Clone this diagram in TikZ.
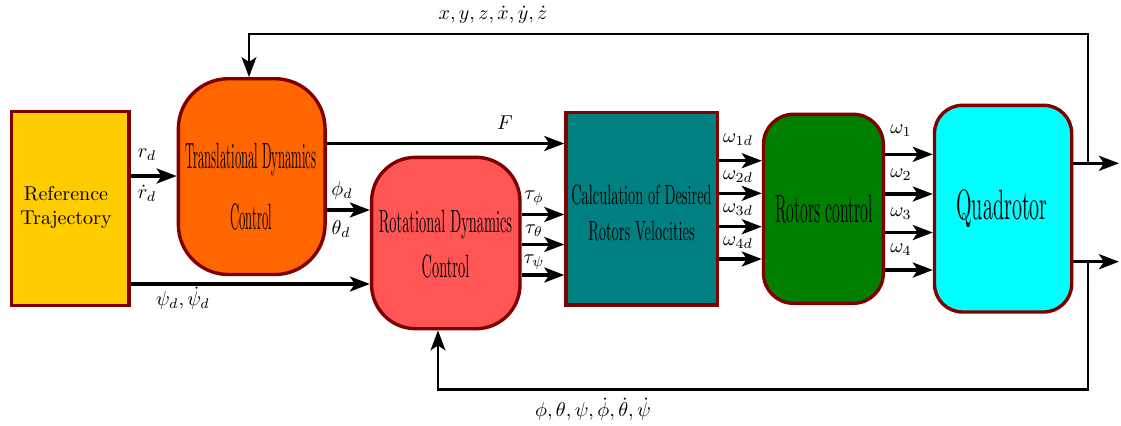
\documentclass[tikz,border=0pt]{standalone}
\usepackage{graphicx}
\usetikzlibrary{arrows.meta,calc}
\definecolor{bord}{HTML}{800000}
\definecolor{cref}{HTML}{FFCC00}
\definecolor{ctrans}{HTML}{FF6600}
\definecolor{crot}{HTML}{FF5555}
\definecolor{ccalc}{HTML}{008080}
\definecolor{crotor}{HTML}{008000}
\definecolor{cquad}{HTML}{00FFFF}
\tikzset{
  blockbox/.style={draw=bord, line width=1.7pt, rectangle, inner sep=0pt},
  txt/.style={inner sep=0pt, anchor=base, align=center},
  lbl/.style={inner sep=0pt},
  arr/.style={line width=1.6pt, -{Stealth[length=10pt,width=7.5pt,inset=2.5pt]}},
  fbarr/.style={line width=1.1pt, -{Stealth[length=10pt,width=7.5pt,inset=2.5pt]}},
}
\begin{document}
\begin{tikzpicture}[x=0.5pt,y=-0.5pt]
\useasboundingbox (0,0) rectangle (1121,425);

% blocks
\node[blockbox, fill=cref, minimum width=58.75pt, minimum height=97pt] (ref) at (70.25,208.5) {};
\node[blockbox, fill=ctrans, rounded corners=25pt, minimum width=73.35pt, minimum height=97.9pt] (trans) at (251.7,176.6) {};
\node[blockbox, fill=crot, rounded corners=22pt, minimum width=74.2pt, minimum height=85.7pt] (rot) at (445.8,243) {};
\node[blockbox, fill=ccalc, minimum width=75.75pt, minimum height=96.35pt] (calc) at (641.75,208.65) {};
\node[blockbox, fill=crotor, rounded corners=15pt, minimum width=59.9pt, minimum height=94.5pt] (rotors) at (823.4,208.8) {};
\node[blockbox, fill=cquad, rounded corners=14pt, minimum width=68.6pt, minimum height=103.35pt] (quad) at (1003.1,208.65) {};

% block texts
\node[txt] (reftxt) at (66,200) {\begin{tabular}[t]{@{}c@{}}Reference\\Trajectory\end{tabular}};
\node[txt] (transtxt) at (251,168) {\scalebox{0.63}[1.83]{\begin{tabular}[t]{@{}c@{}}Translational Dynamics\\[4.7pt]Control\end{tabular}}};
\node[txt] (rottxt) at (445.5,232) {\scalebox{0.72}[1.61]{\begin{tabular}[t]{@{}c@{}}Rotational Dynamics\\[2pt]Control\end{tabular}}};
\node[txt] (calctxt) at (641.5,204) {\scalebox{0.72}[1.39]{\begin{tabular}[t]{@{}c@{}}Calculation of Desired\\[1.3pt]Rotors Velocities\end{tabular}}};
\node[txt] (rotorstxt) at (824,222) {\scalebox{0.78}[1.98]{Rotors control}};
\node[txt] (quadtxt) at (1002,219) {\scalebox{1.0}[2.12]{Quadrotor}};

% forward arrows
\draw[arr] (ref.east |- 0,176) -- (trans.west |- 0,176);
\draw[arr] (ref.east |- 0,284) -- (rot.west |- 0,284);
\draw[arr] (trans.east |- 0,210) -- (rot.west |- 0,210);
\draw[arr] (trans.east |- 0,143.5) -- (calc.west |- 0,143.5);
\foreach \yy in {214.5,244.5,275} \draw[arr] (rot.east |- 0,\yy) -- (calc.west |- 0,\yy);
\foreach \yy in {160.7,193.3,226.7,259} \draw[arr] (calc.east |- 0,\yy) -- (rotors.west |- 0,\yy);
\foreach \yy in {154.3,194,232.5,270} \draw[arr] (rotors.east |- 0,\yy) -- (quad.west |- 0,\yy);

% outputs and feedback
\coordinate (o1) at (1119,163.3);
\coordinate (o2) at (1119,261.7);
\coordinate (s1) at (1088,163.3);
\coordinate (s2) at (1088,261.7);
\draw[arr] (quad.east |- o1) -- (o1);
\draw[arr] (quad.east |- o2) -- (o2);
\draw[fbarr] (s1) -- (1088,34) -- (249,34) -- (trans.north -| 249,0);
\draw[fbarr] (s2) -- (1088,389.5) -- (438,389.5) -- (rot.south -| 438,0);

% labels
\node[lbl] (lrd) at (147,155) {$r_d$};
\node[lbl] (lrdd) at (147,193) {$\dot{r}_d$};
\node[lbl] (lpsi) at (183,298) {$\psi_d, \dot{\psi}_d$};
\node[lbl] (lphi) at (342,190) {$\phi_d$};
\node[lbl] (ltheta) at (341,229) {$\theta_d$};
\node[lbl] (lF) at (505,123) {$F$};
\node[lbl] (ltphi) at (534,198) {$\tau_\phi$};
\node[lbl] (lttheta) at (534,231) {$\tau_\theta$};
\node[lbl] (ltpsi) at (534,262) {$\tau_\psi$};
\node[lbl] (lw1d) at (738,140) {$\omega_{1d}$};
\node[lbl] (lw2d) at (738,177) {$\omega_{2d}$};
\node[lbl] (lw3d) at (738,210) {$\omega_{3d}$};
\node[lbl] (lw4d) at (738,243) {$\omega_{4d}$};
\node[lbl] (lw1) at (901,131) {$\omega_1$};
\node[lbl] (lw2) at (901,175) {$\omega_2$};
\node[lbl] (lw3) at (901,214) {$\omega_3$};
\node[lbl] (lw4) at (901,250) {$\omega_4$};
\node[lbl] (ltop) at (493,15) {$x, y, z, \dot{x}, \dot{y}, \dot{z}$};
\node[lbl] (lbot) at (593,409) {$\phi, \theta, \psi, \dot{\phi}, \dot{\theta}, \dot{\psi}$};
\end{tikzpicture}
\end{document}
